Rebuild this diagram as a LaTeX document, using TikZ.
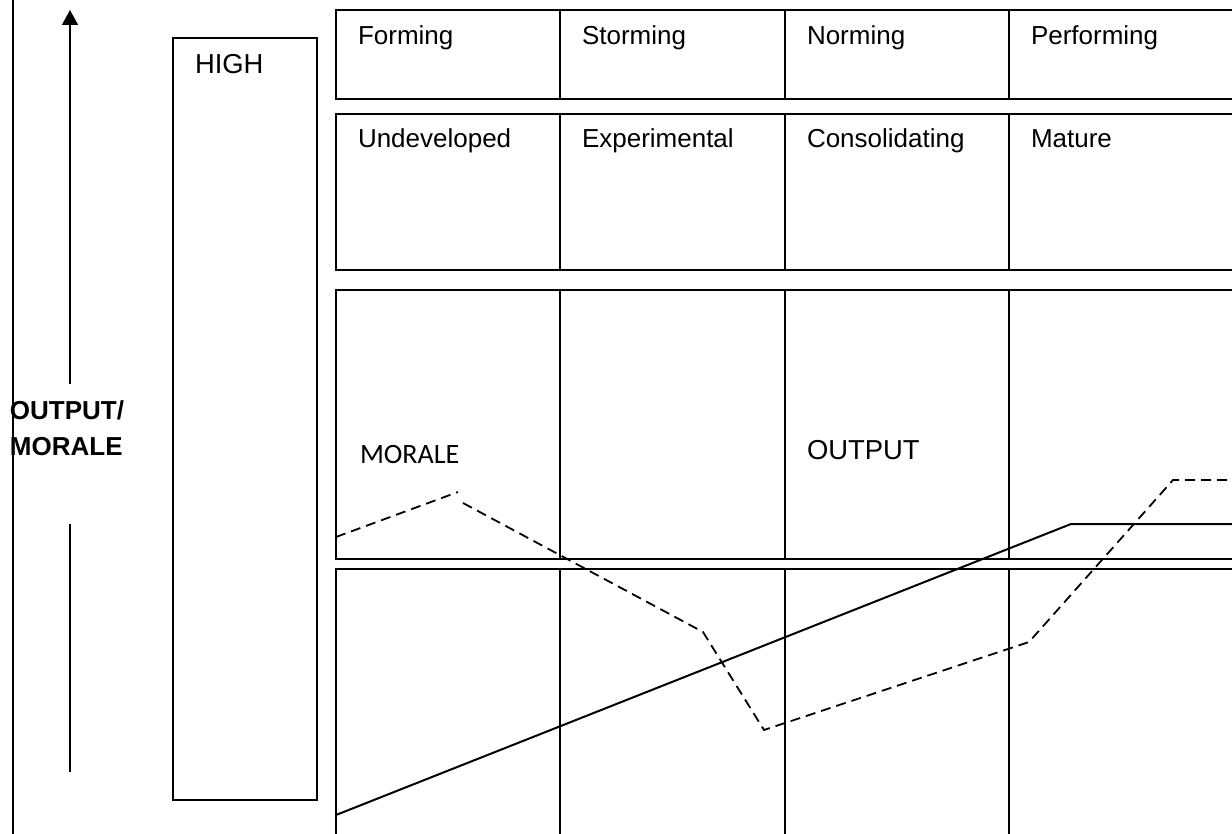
\documentclass[tikz,border=0pt]{standalone}
\usepackage{fontspec}
\setmainfont{Liberation Sans}
\newfontfamily\carlito{Carlito}
\usetikzlibrary{arrows.meta}
\begin{document}
\begin{tikzpicture}[x=0.5pt,y=-0.5pt,line width=1pt,
  cell/.style={draw,rectangle,anchor=north west,inner sep=0pt,outer sep=0pt,
               minimum width=112.15pt},
  lbl/.style={anchor=base west,inner sep=0pt,font=\fontsize{13}{15}\selectfont},
  biglbl/.style={anchor=base west,inner sep=0pt,font=\fontsize{13.7}{16}\selectfont},
  axislbl/.style={anchor=base west,inner sep=0pt,font=\fontsize{13}{15}\selectfont\bfseries},
  serieslbl/.style={anchor=base west,inner sep=0pt,font=\fontsize{14}{16}\selectfont\carlito},
  morale/.style={dash pattern=on 5pt off 3pt,line width=0.9pt},
  output/.style={line width=1pt}]
\useasboundingbox (0,0) rectangle (1232,834);
\clip (0,0) rectangle (1232,834);

% left frame line
\coordinate (ftop) at (13,-5);
\coordinate (fbot) at (13,840);
\draw (ftop) -- (fbot);

% vertical axis arrow, interrupted by its label
\coordinate (abot) at (70,384);
\coordinate (atip) at (70,10);
\coordinate (a2top) at (70,524);
\coordinate (a2bot) at (70,772);
\draw[line width=0.8pt,-{Triangle[width=8pt,length=7.5pt]}] (abot) -- (atip);
\draw[line width=0.8pt] (a2top) -- (a2bot);
\node[axislbl] (ax1) at (9,419) {OUTPUT/};
\node[axislbl] (ax2) at (9,455) {MORALE};

% HIGH bar
\node[draw,rectangle,anchor=north west,inner sep=0pt,minimum width=72pt,minimum height=381pt]
  (high) at (172,37) {};
\node[biglbl] (highlbl) at (194,74) {HIGH};

% grid of stage cells
\foreach \c/\x in {1/336,2/560.3,3/784.7,4/1009}{
  \node[cell,minimum height=44.5pt] (r1c\c) at (\x,10) {};
  \node[cell,minimum height=78pt]   (r2c\c) at (\x,114) {};
  \node[cell,minimum height=134.5pt] (r3c\c) at (\x,290) {};
  \node[cell,minimum height=150pt]  (r4c\c) at (\x,569) {};
}

% stage names
\node[lbl] (t1) at (357,45) {Forming};
\node[lbl] (t2) at (581,45) {Storming};
\node[lbl] (t3) at (806,45) {Norming};
\node[lbl] (t4) at (1030,45) {Performing};
\node[lbl] (u1) at (357,148) {Undeveloped};
\node[lbl] (u2) at (581,148) {Experimental};
\node[lbl] (u3) at (806,148) {Consolidating};
\node[lbl] (u4) at (1030,148) {Mature};

% series labels
\node[serieslbl] (mlbl) at (359,463) {MORALE};
\node[biglbl] (olbl) at (806,459) {OUTPUT};

% output curve
\coordinate (o0) at (336,815);
\coordinate (o1) at (1071,524);
\coordinate (o2) at (1240,524);
\draw[output] (o0) -- (o1) -- (o2);

% morale curve
\coordinate (m0) at (336,537);
\coordinate (m1) at (458,492);
\coordinate (m2) at (463,503);
\coordinate (m3) at (703,632);
\coordinate (m4) at (764,730);
\coordinate (m5) at (1029,642);
\coordinate (m6) at (1173,480);
\coordinate (m7) at (1240,480);
\draw[morale] (m0) -- (m1);
\draw[morale] (m2) -- (m3) -- (m4) -- (m5) -- (m6) -- (m7);
\end{tikzpicture}
\end{document}
